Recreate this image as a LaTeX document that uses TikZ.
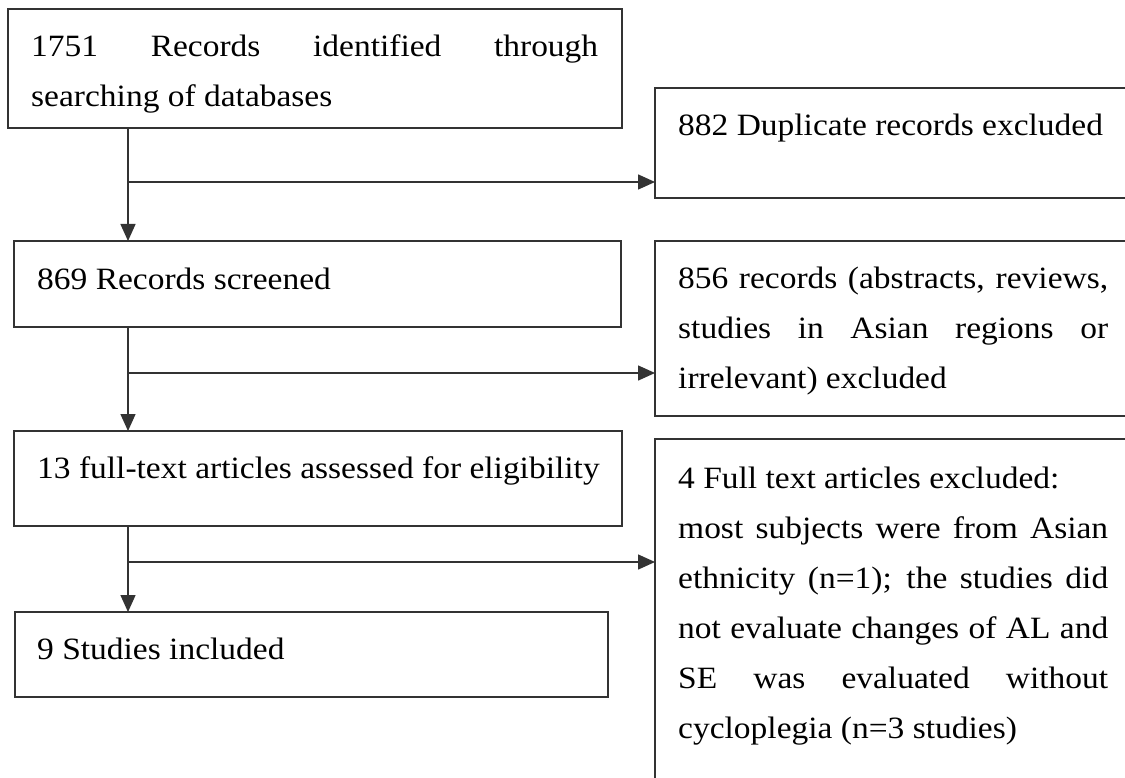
\documentclass[tikz,border=0pt]{standalone}
\usepackage{fontspec}
\setmainfont[FakeStretch=1.08]{Liberation Serif}
\usetikzlibrary{arrows.meta}
\definecolor{linec}{HTML}{333333}
\begin{document}
\begin{tikzpicture}[x=1pt,y=-1pt,
  box/.style={draw=linec, line width=1.5pt, anchor=north west, inner sep=0pt, outer sep=0pt},
  txt/.style={anchor=base west, inner sep=0pt, font=\fontsize{31}{50}\selectfont, text=black},
  arr/.style={draw=linec, line width=1.5pt, -{Triangle[length=17pt,width=15pt]}}]
\useasboundingbox (0,0) rectangle (1125,778);
\fill[white] (0,0) rectangle (1125,778);
\clip (0,0) rectangle (1125,778);
% boxes
\node[box, minimum width=614pt, minimum height=119pt] (b1) at (8,9) {};
\node[box, minimum width=490pt, minimum height=110pt] (b2) at (655,88) {};
\node[box, minimum width=607pt, minimum height=86pt] (b3) at (14,241) {};
\node[box, minimum width=490pt, minimum height=175pt] (b4) at (655,241) {};
\node[box, minimum width=608pt, minimum height=95pt] (b5) at (14,431) {};
\node[box, minimum width=490pt, minimum height=380pt] (b6) at (655,439) {};
\node[box, minimum width=593pt, minimum height=85pt] (b7) at (15,612) {};
% texts
\node[txt] (t1a) at (31,57) {\makebox[567pt][s]{1751 Records identified through}};
\node[txt] (t1b) at (31,107) {searching of databases};
\node[txt] (t2) at (678,136) {882 Duplicate records excluded};
\node[txt] (t3) at (37,290) {869 Records screened};
\node[txt] (t4a) at (678,288) {\makebox[430pt][s]{856 records (abstracts, reviews,}};
\node[txt] (t4b) at (678,338) {\makebox[430pt][s]{studies in Asian regions or}};
\node[txt] (t4c) at (678,388) {irrelevant) excluded};
\node[txt] (t5) at (37,478) {13 full-text articles assessed for eligibility};
\node[txt] (t6a) at (678,488) {4 Full text articles excluded:};
\node[txt] (t6b) at (678,538) {\makebox[430pt][s]{most subjects were from Asian}};
\node[txt] (t6c) at (678,588) {\makebox[430pt][s]{ethnicity (n=1); the studies did}};
\node[txt] (t6d) at (678,638) {\makebox[430pt][s]{not evaluate changes of AL and}};
\node[txt] (t6e) at (678,688) {\makebox[430pt][s]{SE was evaluated without}};
\node[txt] (t6f) at (678,738) {cycloplegia (n=3 studies)};
\node[txt] (t7) at (37,659) {9 Studies included};
% connectors
\coordinate (j1) at (128,182);
\coordinate (j2) at (128,373);
\coordinate (j3) at (128,562);
\draw[arr] (b1.south -| j1) -- (b3.north -| j1);
\draw[arr] (j1) -- (j1 -| b2.west);
\draw[arr] (b3.south -| j2) -- (b5.north -| j2);
\draw[arr] (j2) -- (j2 -| b4.west);
\draw[arr] (b5.south -| j3) -- (b7.north -| j3);
\draw[arr] (j3) -- (j3 -| b6.west);
\end{tikzpicture}
\end{document}
